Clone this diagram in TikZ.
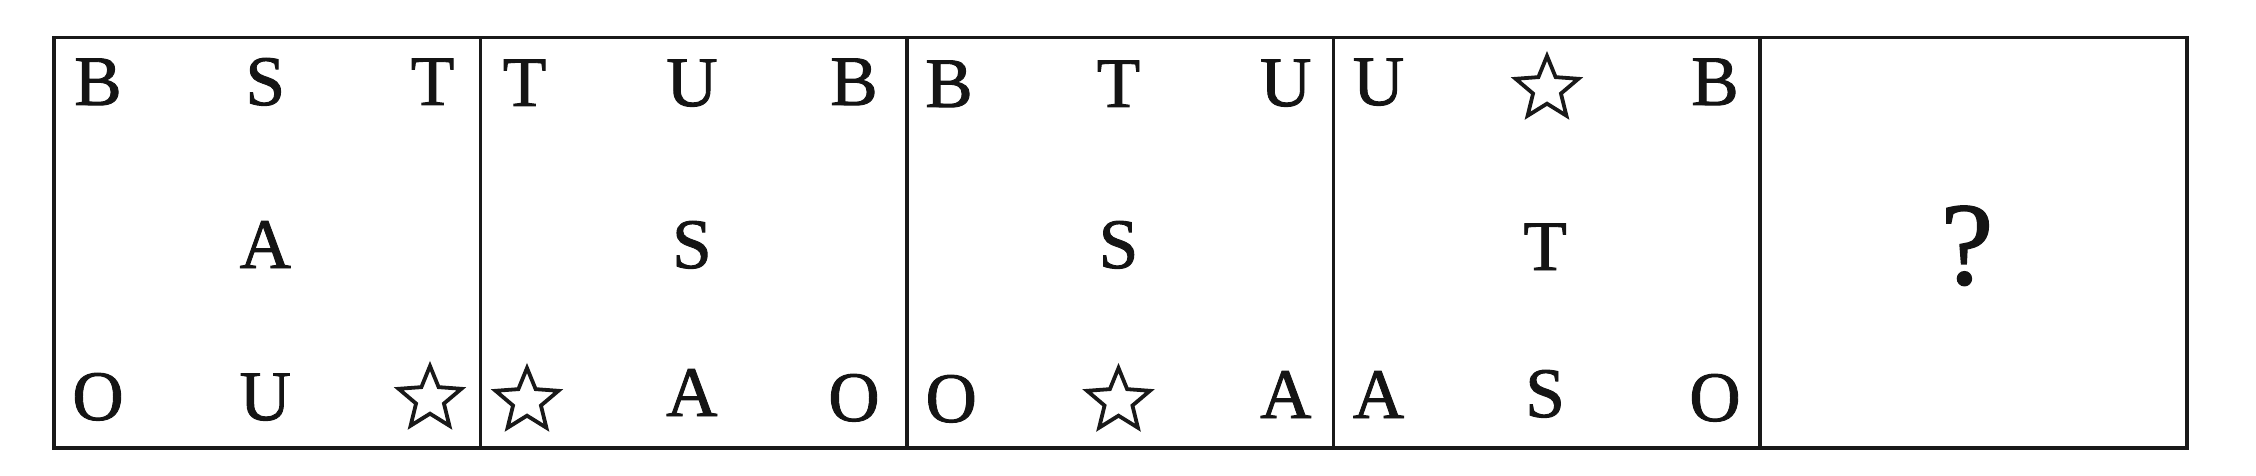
\documentclass[tikz,border=0pt]{standalone}
\usepackage{fontspec}
\setmainfont{Liberation Serif}
\newfontface\glyphface{Liberation Serif}[FakeBold=1.3]
\usetikzlibrary{shapes.geometric}
\begin{document}
\begin{tikzpicture}[x=1pt,y=-1pt,
  panel/.style={draw=black!90, line width=3.5pt, minimum width=426.6pt, minimum height=410pt, inner sep=0pt, anchor=north west},
  glyph/.style={font=\glyphface\fontsize{71}{71}\selectfont, anchor=base, inner sep=0pt, text=black!92},
  starmark/.style={star, star points=5, star point ratio=2.25, minimum size=66pt, inner sep=0pt, draw=black!90, line width=3.8pt, miter limit=4},
  qmark/.style={font=\glyphface\fontsize{118}{118}\selectfont, anchor=base, inner sep=0pt, text=black!92},
]
\useasboundingbox (0,0) rectangle (2256,476);
% panels
\node[panel] (p1) at (52,36) {};
\node[panel] (p2) at (478.6,36) {};
\node[panel] (p3) at (905.2,36) {};
\node[panel] (p4) at (1331.8,36) {};
\node[panel] (p5) at (1758.4,36) {};
% panel 1
\node[glyph] (p1a) at (98,105) {B};
\node[glyph] (p1b) at (265.3,105) {S};
\node[glyph] (p1c) at (432.6,105) {T};
\node[glyph] (p1d) at (265.3,268) {A};
\node[glyph] (p1e) at (98,420) {O};
\node[glyph] (p1f) at (265.3,420) {U};
\node[starmark] (p1g) at (430,399) {};
% panel 2
\node[glyph] (p2a) at (524.6,106) {T};
\node[glyph] (p2b) at (691.9,106) {U};
\node[glyph] (p2c) at (854,105) {B};
\node[glyph] (p2d) at (691.9,268) {S};
\node[starmark] (p2e) at (527,401) {};
\node[glyph] (p2f) at (691.9,416) {A};
\node[glyph] (p2g) at (854,421) {O};
% panel 3
\node[glyph] (p3a) at (949,107) {B};
\node[glyph] (p3b) at (1118.5,107) {T};
\node[glyph] (p3c) at (1285.8,106) {U};
\node[glyph] (p3d) at (1118.5,268) {S};
\node[glyph] (p3e) at (951.2,422) {O};
\node[starmark] (p3f) at (1118.5,401) {};
\node[glyph] (p3g) at (1285.8,418) {A};
% panel 4
\node[glyph] (p4a) at (1378.5,105) {U};
\node[starmark] (p4b) at (1547,89) {};
\node[glyph] (p4c) at (1715,105) {B};
\node[glyph] (p4d) at (1545.1,270) {T};
\node[glyph] (p4e) at (1378.5,418) {A};
\node[glyph] (p4f) at (1545.1,417) {S};
\node[glyph] (p4g) at (1715,421) {O};
% panel 5
\node[qmark] (p5q) at (1967,284) {?};
\end{tikzpicture}
\end{document}
